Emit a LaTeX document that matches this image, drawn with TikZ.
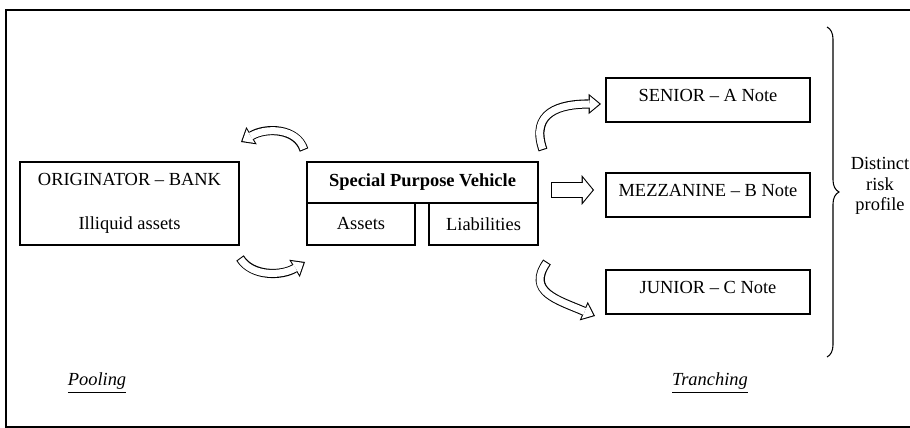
\documentclass[tikz,border=0pt]{standalone}
\usepackage{fontspec}
\setmainfont{Liberation Serif}
\usetikzlibrary{arrows.meta}
\usetikzlibrary{decorations.pathreplacing}

\begin{document}
\begin{tikzpicture}[
        x=0.02cm, y=-0.02cm, % one unit = one pixel of the page, y downwards
        font=\fontsize{10.5}{13}\selectfont, % text size of the labels
        line width=0.6pt,
        box/.style={draw, inner sep=0pt}, % style for the boxes
        note/.style={box, minimum width=4.08cm, minimum height=0.88cm,
        text height=7.5pt, text depth=6.3pt}, % style for the notes
        bendarrow/.style={preaction={draw=black, line width=5.2pt, shorten >=0pt, shorten <=0pt,
        -{Triangle[length=7pt, width=11.5pt, line width=0pt]}},
        draw=white, line width=4pt, shorten >=1pt, shorten <=0.6pt,
        -{Triangle[length=5.4pt, width=9pt, line width=0pt]}}, % hollow curved arrow
        fatarrow/.style={preaction={draw=black, line width=9.2pt, shorten >=0pt, shorten <=0pt,
        -{Triangle[length=7pt, width=17pt, line width=0pt]}},
        draw=white, line width=8pt, shorten >=0.8pt, shorten <=0.6pt,
        -{Triangle[length=5.6pt, width=13.6pt, line width=0pt]}}, % hollow straight arrow
    ]
        \clip (0,0) rectangle (910,428);
        % --- Frame ---
        \draw (6,10) rectangle (930,427);

        % --- Pooling side ---
        \node (orig) [box, minimum width=4.38cm, minimum height=1.66cm, align=center]
            at (129.5,203.5) {ORIGINATOR -- BANK\\[12pt]Illiquid assets};
        \node (spv) [box, minimum width=4.62cm, minimum height=0.82cm] at (422.5,182.5)
            {\textbf{Special Purpose Vehicle}};
        \node (assets) [box, minimum width=2.16cm, minimum height=0.84cm] at (361,224) {Assets};
        \node (liab) [box, minimum width=2.18cm, minimum height=0.84cm] at (483.5,224) {Liabilities};

        % Curved arrows between bank and vehicle
        \coordinate (backtail) at (304,150);
        \coordinate (backhead) at (241,142);
        \draw[bendarrow] (backtail) .. controls (297,128) and (266,127) .. (backhead);
        \coordinate (sendtail) at (240,258);
        \coordinate (sendhead) at (305,262);
        \draw[bendarrow] (sendtail) .. controls (252,277) and (282,276) .. (sendhead);

        % --- Tranching side ---
        \node (senior) [note] at (708,100) {SENIOR -- A Note};
        \node (mezz) [note] at (708,195) {MEZZANINE -- B Note};
        \node (junior) [note] at (708,292) {JUNIOR -- C Note};

        \coordinate (uptail) at (543,150);
        \coordinate (uphead) at (601,104);
        \draw[bendarrow] (uptail) .. controls (530,112) and (560,104) .. (uphead);
        \coordinate (midtail) at (551,190);
        \coordinate (midhead) at (594,190);
        \draw[fatarrow] (midtail) -- (midhead);
        \coordinate (downtail) at (547,262);
        \coordinate (downhead) at (595,316);
        \draw[bendarrow] (downtail) .. controls (526,292) and (558,300) .. (downhead);

        % Brace and its label
        \coordinate (bracetop) at (827,27);
        \coordinate (bracebot) at (827,357);
        \draw[decorate, decoration={brace, amplitude=0.24cm}] (bracetop) -- (bracebot);
        \node (profile) [align=center, font=\fontsize{10.5}{11.5}\selectfont] at (880,186)
            {Distinct\\risk\\profile};

        % --- Bottom labels ---
        \node (pooling) at (97,383) {\underline{\textit{Pooling}}};
        \node (tranching) at (710,383) {\underline{\textit{Tranching}}};
    \end{tikzpicture}
\end{document}
